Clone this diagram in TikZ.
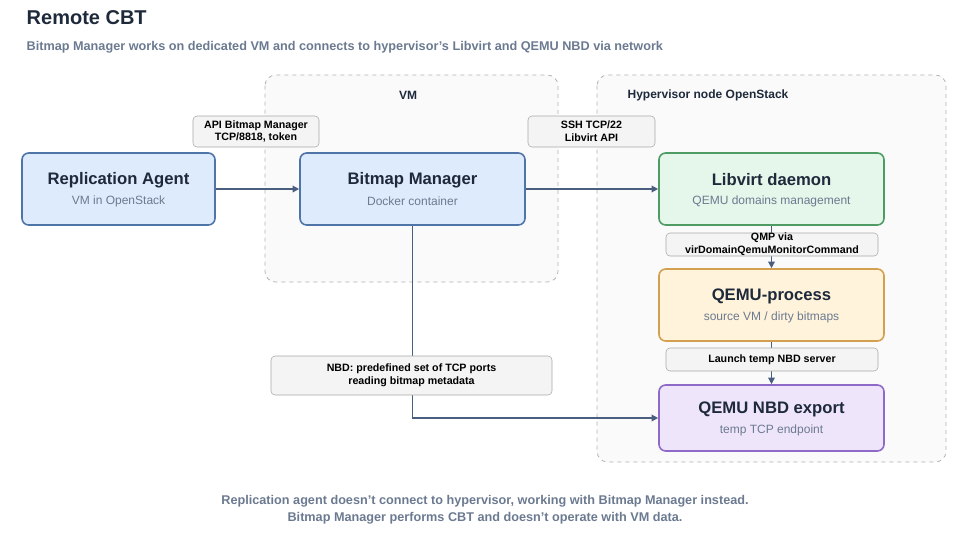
\documentclass[tikz,border=0pt]{standalone}
\usepackage{fontspec}
\setmainfont{Liberation Sans}
\usetikzlibrary{arrows.meta}
\definecolor{navy}{HTML}{1E2A3B}
\definecolor{sub}{HTML}{6B7A90}
\definecolor{edge}{HTML}{4A5F80}
\definecolor{bfill}{HTML}{DDEBFC}\definecolor{bdraw}{HTML}{4F74A8}
\definecolor{gfill}{HTML}{E5F6EA}\definecolor{gdraw}{HTML}{4E9C63}
\definecolor{ofill}{HTML}{FFF3DB}\definecolor{odraw}{HTML}{D3A04F}
\definecolor{pfill}{HTML}{EFE5FB}\definecolor{pdraw}{HTML}{8E69C8}
\definecolor{lfill}{HTML}{F4F4F4}\definecolor{ldraw}{HTML}{A8A8A8}
\begin{document}
\begin{tikzpicture}[x=0.75pt,y=-0.75pt,
 region/.style={draw=gray!60,dashed,rounded corners=8pt,fill=gray!4,line width=0.6pt},
 box/.style={rounded corners=5pt,line width=1.2pt,align=center},
 lbl/.style={draw=ldraw,fill=lfill,rounded corners=3pt,font=\bfseries\fontsize{8}{9.5}\selectfont,align=center,inner sep=0pt},
 arr/.style={draw=edge,line width=1pt,-{Triangle[length=5pt,width=5pt]}}]
\useasboundingbox (0,0) rectangle (970,543);
\node[anchor=west,text=navy,font=\bfseries\fontsize{15}{18}\selectfont] (title) at (22,18) {Remote CBT};
\node[anchor=west,text=sub,font=\bfseries\fontsize{9.5}{11}\selectfont] (subt) at (22,47) {Bitmap Manager works on dedicated VM and connects to hypervisor's Libvirt and QEMU NBD via network};
\draw[region] (265,75) rectangle (558,282);
\draw[region] (597,75) rectangle (946,462);
\node[font=\bfseries\fontsize{9}{11}\selectfont,text=navy] (vml) at (408,95) {VM};
\node[font=\bfseries\fontsize{9}{11}\selectfont,text=navy] (hvl) at (708,95) {Hypervisor node OpenStack};
\newcommand{\bx}[7]{\node[box,draw=#6,fill=#5,minimum width=#3*0.75pt,minimum height=#4*0.75pt] (#7) at (#1,#2) {};
}
\bx{118.5}{189}{193}{72}{bfill}{bdraw}{ra}
\bx{412.5}{189}{225}{72}{bfill}{bdraw}{bm}
\bx{771.5}{189}{225}{72}{gfill}{gdraw}{lv}
\bx{771.5}{305}{225}{72}{ofill}{odraw}{qp}
\bx{771.5}{418}{225}{66}{pfill}{pdraw}{nbd}
\newcommand{\txt}[5]{\node[text=navy,font=\bfseries\fontsize{12.5}{14}\selectfont] (#5a) at (#1,#2-9) {#3};
\node[text=sub,font=\fontsize{9}{11}\selectfont] (#5b) at (#1,#2+12) {#4};}
\txt{118.5}{189}{Replication Agent}{VM in OpenStack}{ra}
\txt{412.5}{189}{Bitmap Manager}{Docker container}{bm}
\txt{771.5}{189}{Libvirt daemon}{QEMU domains management}{lv}
\txt{771.5}{305}{QEMU-process}{source VM / dirty bitmaps}{qp}
\txt{771.5}{418}{QEMU NBD export}{temp TCP endpoint}{nbd}
\draw[arr] (ra.east) -- (bm.west);
\draw[arr] (bm.east) -- (lv.west);
\draw[arr] (lv.south) -- (qp.north);
\draw[arr] (qp.south) -- (nbd.north);
\draw[arr] (bm.south) |- (nbd.west);
\node[lbl,minimum width=126*0.75pt,minimum height=31*0.75pt] (l1) at (256,131.5) {API Bitmap Manager\\TCP/8818, token};
\node[lbl,minimum width=127*0.75pt,minimum height=31*0.75pt] (l2) at (591.5,131.5) {SSH TCP/22\\Libvirt API};
\node[lbl,minimum width=212*0.75pt,minimum height=23*0.75pt] (l3) at (772,244.5) {QMP via\\virDomainQemuMonitorCommand};
\node[lbl,minimum width=212*0.75pt,minimum height=23*0.75pt] (l4) at (772,359.5) {Launch temp NBD server};
\node[lbl,minimum width=281*0.75pt,minimum height=39*0.75pt] (l5) at (411.5,375.5) {NBD: predefined set of TCP ports\\reading bitmap metadata};
\node[text=sub,font=\bfseries\fontsize{9.5}{12.5}\selectfont,align=center] (foot) at (485,510) {Replication agent doesn't connect to hypervisor, working with Bitmap Manager instead.\\Bitmap Manager performs CBT and doesn't operate with VM data.};
\end{tikzpicture}
\end{document}
